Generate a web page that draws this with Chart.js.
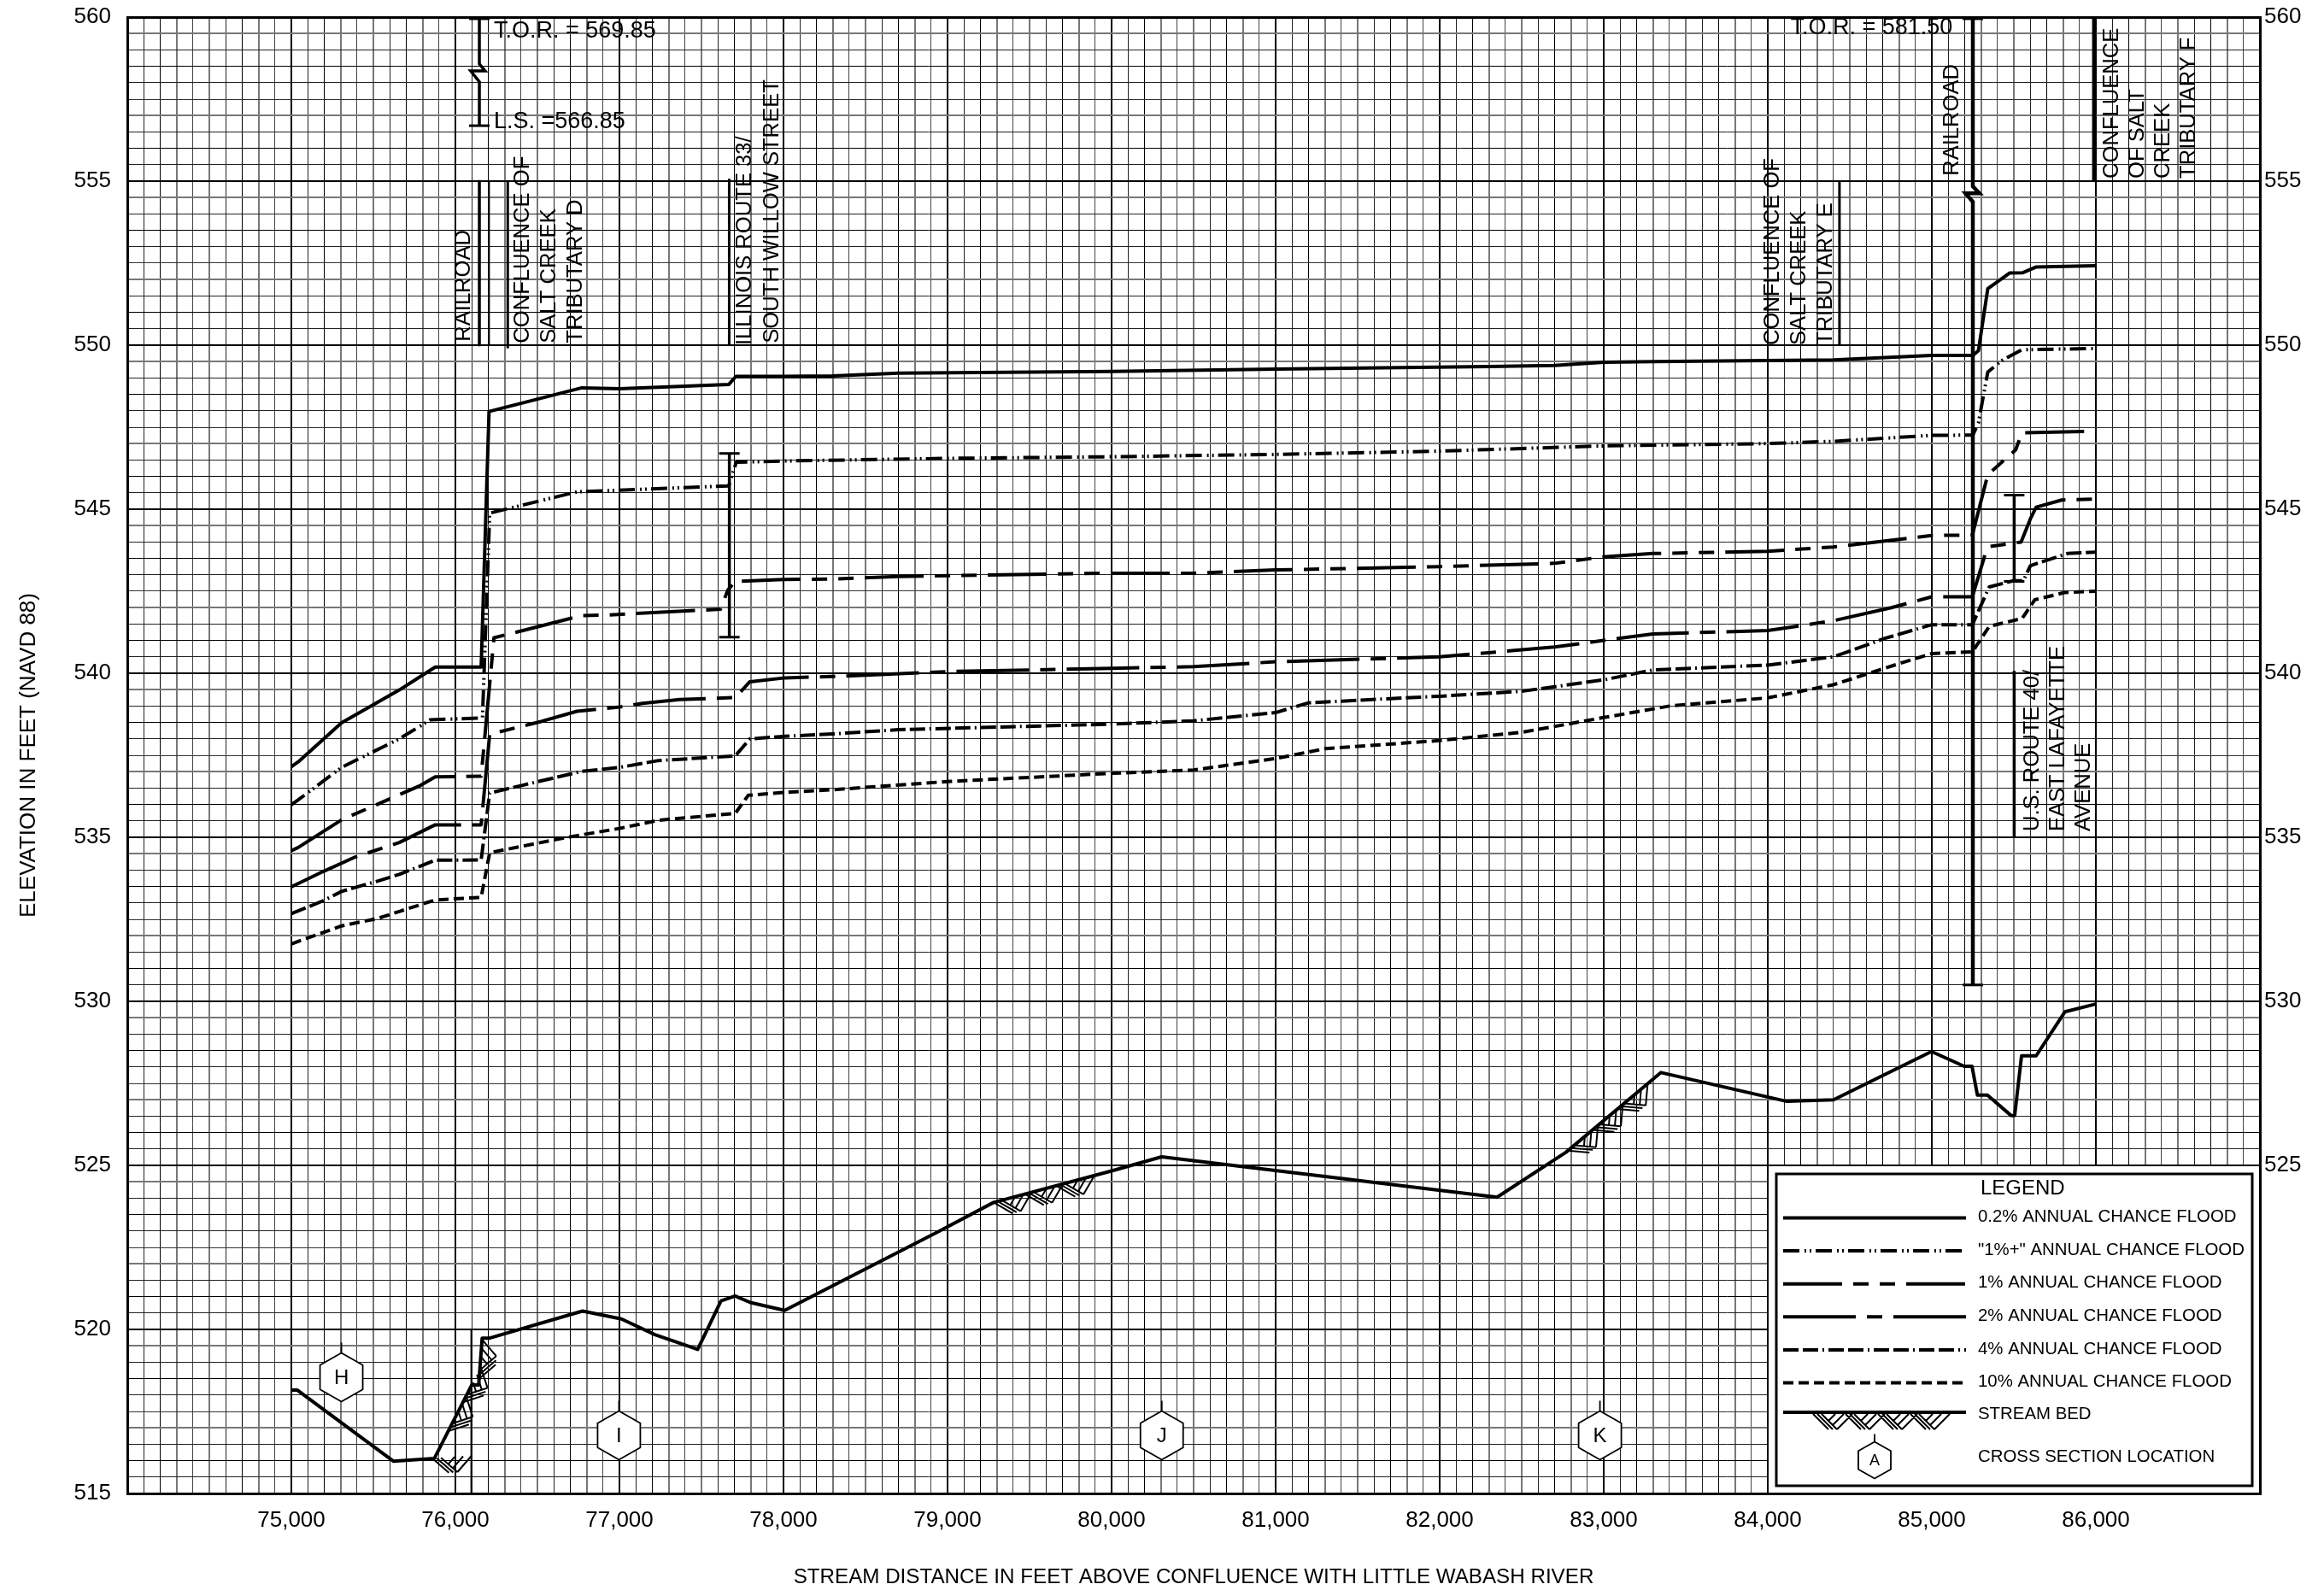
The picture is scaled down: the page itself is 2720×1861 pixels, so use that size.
<!DOCTYPE html>
<html lang="en">
<head>
    <meta charset="utf-8">
    <title>Flood Profile</title>
    <style>
        * {
            padding: 0;
            margin: 0;
        }
        body {
            background: #ffffff;
        }
        #profile {
            display: block;
        }
    </style>
</head>
<body>
    <canvas id="profile" width="2720" height="1861"></canvas>

    <script src="https://cdn.jsdelivr.net/npm/chart.js@4/dist/chart.umd.min.js"></script>
    <script>
        // Flood profiles: stream distance (ft), elevation (ft)
        const flood02X = [75000, 75042, 75306, 75658, 75877, 76157, 76205, 76771, 77000, 77666, 77710, 78000, 78300, 78700, 80000, 81000, 82300, 82700, 83000, 83300, 84400, 85000, 85250, 85284, 85341, 85474, 85555, 85634, 86000];
        const flood02Y = [537.15, 537.3, 538.49, 539.49, 540.19, 540.19, 547.98, 548.7, 548.67, 548.8, 549.05, 549.05, 549.06, 549.15, 549.2, 549.27, 549.35, 549.38, 549.48, 549.5, 549.55, 549.69, 549.69, 549.83, 551.72, 552.2, 552.21, 552.38, 552.42];

        const flood1PlusX = [75000, 75042, 75306, 75658, 75847, 76165, 76209, 76741, 77000, 77666, 77712, 78000, 79000, 80000, 81000, 82000, 83000, 84000, 84400, 85000, 85250, 85284, 85341, 85426, 85549, 86000];
        const flood1PlusY = [535.99, 536.14, 537.13, 538.0, 538.58, 538.64, 544.88, 545.53, 545.58, 545.71, 546.43, 546.47, 546.55, 546.6, 546.67, 546.77, 546.93, 547.0, 547.07, 547.25, 547.26, 547.63, 549.18, 549.53, 549.86, 549.9];

        const flood1X = [75000, 75042, 75306, 75787, 75877, 76157, 76235, 76771, 76940, 77616, 77660, 77705, 78000, 78300, 78700, 80000, 80500, 81000, 82000, 82700, 83000, 83300, 84000, 84400, 85000, 85247, 85341, 85511, 85549, 86000];
        const flood1Y = [534.59, 534.69, 535.53, 536.58, 536.84, 536.86, 541.08, 541.76, 541.78, 541.95, 542.53, 542.8, 542.86, 542.87, 542.95, 543.05, 543.05, 543.15, 543.25, 543.35, 543.55, 543.65, 543.72, 543.85, 544.2, 544.21, 546.05, 546.81, 547.33, 547.38];

        const flood2X = [75000, 75191, 75390, 75658, 75877, 76157, 76209, 76523, 76741, 77000, 77139, 77368, 77706, 77795, 78010, 78300, 79000, 80000, 80500, 81000, 82000, 82700, 83000, 83300, 84000, 84400, 84753, 85000, 85247, 85333, 85350, 85544, 85601, 85636, 85792, 86000];
        const flood2Y = [533.49, 533.95, 534.4, 534.84, 535.38, 535.38, 538.14, 538.53, 538.84, 538.97, 539.08, 539.2, 539.26, 539.74, 539.86, 539.9, 540.05, 540.15, 540.2, 540.35, 540.5, 540.8, 541.0, 541.2, 541.3, 541.6, 542.0, 542.33, 542.33, 543.76, 543.86, 544.0, 544.71, 545.06, 545.28, 545.31];

        const flood4X = [75000, 75191, 75306, 75529, 75658, 75877, 76157, 76209, 76404, 76771, 77000, 77239, 77706, 77795, 78010, 78300, 78700, 80000, 80500, 81000, 81200, 82000, 82500, 83000, 83300, 84000, 84400, 84718, 85000, 85247, 85350, 85497, 85558, 85601, 85827, 86000];
        const flood4Y = [532.67, 533.06, 533.35, 533.67, 533.87, 534.3, 534.31, 536.35, 536.58, 537.01, 537.13, 537.34, 537.48, 538.0, 538.08, 538.15, 538.28, 538.45, 538.55, 538.8, 539.1, 539.3, 539.45, 539.8, 540.1, 540.25, 540.5, 541.07, 541.48, 541.48, 542.63, 542.82, 542.82, 543.28, 543.65, 543.69];

        const flood10X = [75000, 75306, 75529, 75658, 75877, 76157, 76209, 76682, 77000, 77239, 77706, 77785, 78010, 78300, 79000, 80000, 80500, 81000, 81300, 82000, 82500, 83000, 83400, 84000, 84400, 84786, 85000, 85247, 85350, 85550, 85628, 85810, 86000];
        const flood10Y = [531.75, 532.3, 532.53, 532.74, 533.09, 533.17, 534.53, 535.0, 535.27, 535.52, 535.73, 536.28, 536.37, 536.45, 536.7, 536.95, 537.05, 537.4, 537.7, 537.95, 538.2, 538.65, 539.0, 539.25, 539.65, 540.27, 540.6, 540.65, 541.43, 541.67, 542.24, 542.46, 542.5];

        const streamX = [75000, 75037, 75623, 75872, 76100, 76142, 76163, 76205, 76775, 77012, 77216, 77477, 77619, 77705, 77798, 78007, 78952, 79281, 80000, 80305, 82350, 82770, 83349, 84117, 84401, 84998, 85197, 85245, 85278, 85339, 85483, 85505, 85547, 85636, 85811, 86000];
        const streamY = [518.15, 518.15, 515.98, 516.07, 518.31, 518.31, 519.73, 519.73, 520.56, 520.32, 519.84, 519.39, 520.87, 521.02, 520.82, 520.58, 523.0, 523.87, 524.83, 525.26, 524.03, 525.4, 527.83, 526.95, 527.0, 528.47, 528.02, 528.02, 527.14, 527.14, 526.52, 526.52, 528.34, 528.34, 529.68, 529.92];

        // Stretches of the stream bed carrying the hatch
        const hatchFrom = [75860, 79281, 82781];
        const hatchTo = [76170, 79906, 83340];

        // Structures: vertical marks
        const railroadTopX = [76146, 76146, 76181, 76093, 76146, 76146];
        const railroadTopY = [559.95, 558.57, 558.36, 558.36, 558.03, 556.69];
        const railroadLowX = [76146, 76146];
        const railroadLowY = [555.03, 549.97];
        const railroadSideX = [76205, 76205];
        const railroadSideY = [555, 550];
        const tributaryDX = [76319, 76319];
        const tributaryDY = [555, 549.9];
        const route33LabelX = [77669, 77669];
        const route33LabelY = [555.07, 549.99];
        const route33X = [77670, 77670];
        const route33Y = [546.7, 541.1];
        const railroadBedX = [76097, 76097];
        const railroadBedY = [520, 515];
        const tributaryEX = [84437, 84437];
        const tributaryEY = [555, 550];
        const railroad2X = [85250, 85250, 85290, 85205, 85250, 85250];
        const railroad2Y = [559.95, 554.84, 554.63, 554.63, 554.37, 530.5];
        const tributaryFX = [85990, 85990];
        const tributaryFY = [560, 555];
        const route40X = [85502, 85502];
        const route40Y = [545.43, 542.8];
        const route40LabelX = [85502, 85502];
        const route40LabelY = [540.07, 535];

        // Cross sections
        const sectionNames = ["H", "I", "J", "K"];
        const sectionX = [75305, 76997, 80306, 82977];
        const sectionY = [518.54, 516.77, 516.77, 516.77];

        // Rotated labels
        const sideLabels = ["RAILROAD", "CONFLUENCE OF", "SALT CREEK", "TRIBUTARY D", "ILLINOIS ROUTE 33/", "SOUTH WILLOW STREET", "CONFLUENCE OF", "SALT CREEK", "TRIBUTARY E", "RAILROAD", "CONFLUENCE", "OF SALT", "CREEK", "TRIBUTARY F", "U.S. ROUTE 40/", "EAST LAFAYETTE", "AVENUE"];
        const sideLabelX = [76052, 76411, 76573, 76734, 77766, 77932, 84031, 84193, 84354, 85125, 86099, 86255, 86411, 86568, 85615, 85771, 85927];
        const sideLabelY = [550.11, 550.06, 550.06, 550.06, 550.0, 550.06, 550.0, 550.0, 550.0, 555.16, 555.08, 555.08, 555.08, 555.08, 535.18, 535.18, 535.18];

        const noteLabels = ["T.O.R. = 569.85", "L.S. =566.85", "T.O.R. = 581.50"];
        const noteX = [76234, 76234, 84138];
        const noteY = [559.58, 556.8, 559.67];

        const legendNames = ["0.2% ANNUAL CHANCE FLOOD", "\"1%+\" ANNUAL CHANCE FLOOD", "1% ANNUAL CHANCE FLOOD", "2% ANNUAL CHANCE FLOOD", "4% ANNUAL CHANCE FLOOD", "10% ANNUAL CHANCE FLOOD"];

        // Line styles
        const dashes = [
            [],
            [19, 6, 2, 4, 2, 5],
            [69, 13, 18, 13, 18, 13],
            [85, 13, 18, 13],
            [18, 5, 18, 5, 2, 5],
            [12, 6]
        ];
        const fontName = '"Liberation Sans", Arial, sans-serif';
        const floodWidth = 4;

        const pts = (xs, ys) => xs.map((x, i) => ({ x: x, y: ys[i] }));

        const floodLine = (xs, ys, dash) => ({
            data: pts(xs, ys),
            borderColor: "#000",
            borderWidth: floodWidth,
            borderDash: dash,
            borderCapStyle: "butt",
            borderJoinStyle: "round",
            pointRadius: 0,
            tension: 0
        });

        // capped = horizontal bar at both ends of the mark
        const structure = (xs, ys, width, capped) => ({
            data: pts(xs, ys),
            borderColor: "#000",
            borderWidth: width,
            pointStyle: "line",
            pointBorderColor: "#000",
            pointBorderWidth: 3,
            pointRadius: xs.map((x, i) => (capped && (i === 0 || i === xs.length - 1)) ? 12 : 0),
            clip: false,
            tension: 0
        });

        // Herringbone under a polyline given in pixels; tail = room a cell needs past its start
        const drawHatch = (ctx, line, tail) => {
            const period = 38;
            const depth = 18;
            let total = 0;
            for (let i = 0; i < line.length - 1; i++) {
                total += Math.hypot(line[i + 1].x - line[i].x, line[i + 1].y - line[i].y);
            }
            ctx.save();
            ctx.strokeStyle = "#000";
            ctx.lineWidth = 2;
            ctx.beginPath();
            let walked = 0;
            let next = 0;
            for (let i = 0; i < line.length - 1; i++) {
                const dx = line[i + 1].x - line[i].x;
                const dy = line[i + 1].y - line[i].y;
                const len = Math.hypot(dx, dy);
                if (len === 0) continue;
                const tx = dx / len, ty = dy / len;
                while (next <= walked + len && next + tail <= total) {
                    const u = next - walked;
                    const ox = line[i].x + tx * u, oy = line[i].y + ty * u;
                    const at = (a, d) => [ox + tx * a - ty * d, oy + ty * a + tx * d];
                    for (let k = 0; k < 3; k++) {
                        ctx.moveTo(...at(5 * k, 0));
                        ctx.lineTo(...at(5 * k + depth, depth));
                    }
                    const v = 10 + depth;
                    for (let k = 0; k < 3; k++) {
                        ctx.moveTo(...at(v - 5 * k, depth - 5 * k));
                        ctx.lineTo(...at(v + depth - 10 * k, 0));
                    }
                    next += period;
                }
                walked += len;
            }
            ctx.stroke();
            ctx.restore();
        };

        const drawHexagon = (ctx, cx, cy, w, h, stem, name, size) => {
            const hw = w / 2, hh = h / 2, side = h / 4;
            ctx.save();
            ctx.strokeStyle = "#000";
            ctx.fillStyle = "#fff";
            ctx.lineWidth = 1.8;
            ctx.beginPath();
            ctx.moveTo(cx, cy - hh);
            ctx.lineTo(cx + hw, cy - side);
            ctx.lineTo(cx + hw, cy + side);
            ctx.lineTo(cx, cy + hh);
            ctx.lineTo(cx - hw, cy + side);
            ctx.lineTo(cx - hw, cy - side);
            ctx.closePath();
            ctx.fill();
            ctx.moveTo(cx, cy - hh);
            ctx.lineTo(cx, cy - hh - stem);
            ctx.stroke();
            ctx.fillStyle = "#000";
            ctx.font = size + "px " + fontName;
            ctx.textAlign = "center";
            ctx.textBaseline = "middle";
            ctx.fillText(name, cx, cy + 1);
            ctx.restore();
        };

        // Polyline of the stream bed between two distances, in pixels
        const streamPixels = (chart, from, to) => {
            const x = chart.scales.x, y = chart.scales.y;
            const elevationAt = (d) => {
                for (let i = 0; i < streamX.length - 1; i++) {
                    if (d >= streamX[i] && d <= streamX[i + 1]) {
                        return streamY[i] + (streamY[i + 1] - streamY[i]) * (d - streamX[i]) / (streamX[i + 1] - streamX[i]);
                    }
                }
                return streamY[streamY.length - 1];
            };
            const ds = [from].concat(streamX.filter(d => d > from && d < to), [to]);
            return ds.map(d => ({ x: x.getPixelForValue(d), y: y.getPixelForValue(elevationAt(d)) }));
        };

        const profileNotes = {
            id: "profileNotes",
            afterDatasetsDraw(chart) {
                const ctx = chart.ctx, x = chart.scales.x, y = chart.scales.y;
                ctx.save();
                ctx.fillStyle = "#000";
                ctx.font = "27px " + fontName;
                ctx.textAlign = "left";
                ctx.textBaseline = "middle";

                noteLabels.forEach((text, i) => {
                    ctx.fillText(text, x.getPixelForValue(noteX[i]), y.getPixelForValue(noteY[i]));
                });

                ctx.font = "25.6px " + fontName;
                sideLabels.forEach((text, i) => {
                    ctx.save();
                    ctx.translate(x.getPixelForValue(sideLabelX[i]), y.getPixelForValue(sideLabelY[i]));
                    ctx.rotate(-Math.PI / 2);
                    ctx.fillText(text, 0, 0);
                    ctx.restore();
                });

                hatchFrom.forEach((from, i) => drawHatch(ctx, streamPixels(chart, from, hatchTo[i]), 36));

                sectionNames.forEach((name, i) => {
                    drawHexagon(ctx, x.getPixelForValue(sectionX[i]), y.getPixelForValue(sectionY[i]), 50, 57, 12, name, 24);
                });

                // Legend sits on the lower right grid block
                const left = x.getPixelForValue(84000);
                const top = y.getPixelForValue(525);
                const right = x.getPixelForValue(87000);
                const bottom = y.getPixelForValue(515);
                ctx.fillStyle = "#fff";
                ctx.fillRect(left, top, right - left, bottom - top);
                ctx.strokeStyle = "#000";
                ctx.lineWidth = 2;
                ctx.strokeRect(left, top, right - left, bottom - top);
                ctx.lineWidth = 3;
                ctx.strokeRect(left + 10, top + 10, right - left - 19, bottom - top - 19);

                ctx.fillStyle = "#000";
                ctx.font = "24px " + fontName;
                ctx.fillText("LEGEND", left + 249, top + 27);

                const sampleLeft = left + 18, sampleRight = left + 232, textLeft = left + 246;
                ctx.lineWidth = floodWidth;
                legendNames.forEach((name, i) => {
                    const rowY = top + 61.5 + 38.6 * i;
                    ctx.setLineDash(dashes[i]);
                    ctx.beginPath();
                    ctx.moveTo(sampleLeft, rowY);
                    ctx.lineTo(sampleRight, rowY);
                    ctx.stroke();
                    ctx.setLineDash([]);
                    ctx.font = "20.4px " + fontName;
                    ctx.fillText(name, textLeft, rowY - 1);
                });

                const bedY = top + 289;
                ctx.beginPath();
                ctx.moveTo(sampleLeft, bedY);
                ctx.lineTo(sampleRight, bedY);
                ctx.stroke();
                drawHatch(ctx, [{ x: left + 53, y: bedY + 2 }, { x: left + 195, y: bedY + 2 }], 0);
                ctx.fillText("STREAM BED", textLeft, bedY + 2);

                drawHexagon(ctx, left + 125, top + 345, 38, 43, 9, "A", 18);
                ctx.font = "20.4px " + fontName;
                ctx.fillText("CROSS SECTION LOCATION", textLeft, top + 341);
                ctx.restore();
            }
        };

        const gridLook = (isEdge, isMajor, shade) => (ctx) => {
            const v = ctx.tick.value;
            if (isEdge(v)) return { color: "#000", width: 3 };
            if (isMajor(v)) return { color: "#000", width: 2 };
            return shade(v);
        };
        const thin = (c) => ({ color: c, width: 1 });
        const soft = { color: "#777777", width: 2 };
        const xShades = [soft, thin("#222"), thin("#000"), soft, thin("#444")];
        const yShades = [thin("#333"), soft, thin("#222"), thin("#000"), thin("#222")];

        const xLook = gridLook(v => v === 74000 || v === 87000, v => v % 1000 === 0, v => xShades[Math.round((v - 74000) / 100) % 5]);
        const yLook = gridLook(v => v === 560 || v === 515, v => v % 5 === 0, v => yShades[Math.round((560 - v) * 2) % 5]);

        new Chart(document.getElementById("profile"), {
            type: "line",
            plugins: [profileNotes],
            data: {
                datasets: [
                    floodLine(flood02X, flood02Y, dashes[0]),
                    floodLine(flood1PlusX, flood1PlusY, dashes[1]),
                    floodLine(flood1X, flood1Y, dashes[2]),
                    floodLine(flood2X, flood2Y, dashes[3]),
                    floodLine(flood4X, flood4Y, dashes[4]),
                    floodLine(flood10X, flood10Y, dashes[5]),
                    floodLine(streamX, streamY, []),
                    structure(railroadTopX, railroadTopY, 3.5, true),
                    structure(railroadLowX, railroadLowY, 3.5, false),
                    structure(railroadSideX, railroadSideY, 2, false),
                    structure(tributaryDX, tributaryDY, 3, false),
                    structure(route33LabelX, route33LabelY, 3, false),
                    structure(route33X, route33Y, 3.5, true),
                    structure(railroadBedX, railroadBedY, 2, false),
                    structure(tributaryEX, tributaryEY, 3, false),
                    structure(railroad2X, railroad2Y, 4.5, true),
                    structure(tributaryFX, tributaryFY, 5, false),
                    structure(route40X, route40Y, 3.5, true),
                    structure(route40LabelX, route40LabelY, 3.5, false)
                ]
            },
            options: {
                responsive: false,
                animation: false,
                layout: { autoPadding: false, padding: { top: 20 } },
                plugins: {
                    legend: { display: false },
                    tooltip: { enabled: false }
                },
                scales: {
                    x: {
                        type: "linear",
                        min: 74000,
                        max: 87000,
                        afterFit: (s) => { s.height = 113; s.paddingLeft = 0; s.paddingRight = 0; },
                        border: { color: "#000", width: 3 },
                        grid: {
                            drawTicks: false,
                            color: (c) => xLook(c).color,
                            lineWidth: (c) => xLook(c).width
                        },
                        ticks: {
                            stepSize: 100,
                            autoSkip: false,
                            maxRotation: 0,
                            padding: 16,
                            color: "#000",
                            font: { family: fontName, size: 26 },
                            callback: (v) => (v % 1000 === 0 && v > 74000 && v < 87000) ? v.toLocaleString("en-US") : ""
                        },
                        title: {
                            display: true,
                            text: "STREAM DISTANCE IN FEET ABOVE CONFLUENCE WITH LITTLE WABASH RIVER",
                            color: "#000",
                            font: { family: fontName, size: 24.2 },
                            padding: { top: 0, bottom: 0 }
                        }
                    },
                    y: {
                        min: 515,
                        max: 560,
                        afterFit: (s) => { s.width = 149; s.paddingTop = 0; s.paddingBottom = 0; },
                        border: { color: "#000", width: 3 },
                        grid: {
                            drawTicks: false,
                            color: (c) => yLook(c).color,
                            lineWidth: (c) => yLook(c).width
                        },
                        ticks: {
                            stepSize: 0.5,
                            autoSkip: false,
                            padding: 19,
                            color: "#000",
                            font: { family: fontName, size: 26 },
                            callback: (v) => v % 5 === 0 ? String(v) : ""
                        },
                        title: {
                            display: true,
                            text: "ELEVATION IN FEET (NAVD 88)",
                            color: "#000",
                            font: { family: fontName, size: 26 },
                            padding: { top: 18, bottom: 0 }
                        }
                    },
                    yRight: {
                        position: "right",
                        min: 515,
                        max: 560,
                        afterFit: (s) => { s.width = 75; s.paddingTop = 0; s.paddingBottom = 0; },
                        border: { color: "#000", width: 3 },
                        grid: { display: false, drawTicks: false },
                        ticks: {
                            stepSize: 5,
                            padding: 5,
                            color: "#000",
                            font: { family: fontName, size: 26 },
                            callback: (v) => v >= 525 ? String(v) : ""
                        }
                    }
                }
            }
        });
    </script>
</body>
</html>
